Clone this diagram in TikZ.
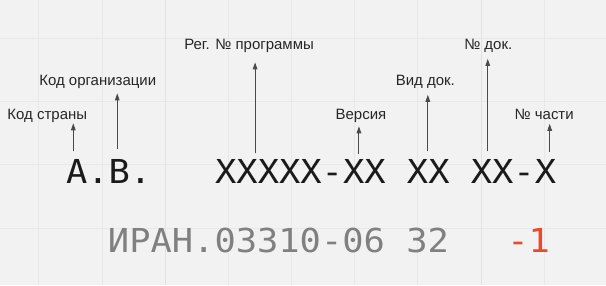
\documentclass[tikz,border=0pt]{standalone}
\usepackage{fontspec}
\setmainfont{Liberation Sans}
\newfontfamily\codefont[FakeStretch=1.074]{DejaVu Sans Mono}
\usetikzlibrary{arrows.meta}

\definecolor{paper}{HTML}{F2F2F2}
\definecolor{gridminor}{HTML}{E8E8E8}
\definecolor{gridmajor}{HTML}{E1E1E1}
\definecolor{labelink}{HTML}{262626}
\definecolor{arrowink}{HTML}{4A4A4A}
\definecolor{codeink}{HTML}{1A1A1A}
\definecolor{sampleink}{HTML}{808080}
\definecolor{partink}{HTML}{F0472B}

\tikzset{
  label/.style={inner sep=0pt, anchor=base, text=labelink,
    font=\fontsize{15}{15}\selectfont},
  code/.style={inner sep=0pt, anchor=base west, text=codeink,
    font=\codefont\fontsize{33}{33}\selectfont},
  pointer/.style={draw=arrowink, line width=0.9pt,
    -{Triangle[length=7pt,width=4.6pt]}},
}

\begin{document}
\begin{tikzpicture}[x=1pt,y=-1pt]
  % canvas and grid
  \fill[paper] (0,0) rectangle (606,285);
  \foreach \gx in {38.5,101.75,228.25,291.5,354.75,418,544.5}
    \draw[gridminor, line width=0.8pt] (\gx,0) -- (\gx,285);
  \foreach \gy in {38,101.25,164.5,227.75}
    \draw[gridminor, line width=0.8pt] (0,\gy) -- (606,\gy);
  \foreach \gx in {165,481.25}
    \draw[gridmajor, line width=0.9pt] (\gx,0) -- (\gx,285);
  \useasboundingbox (0,0) rectangle (606,285);

  % designation pattern
  \node[code] (pattern) at (65.5,183) {A.B.\ \ \ XXXXX-XX XX XX-X};

  % sample designation
  \node[code, text=sampleink] (sample) at (107.5,252) {ИРАН.03310-06 32};
  \node[code, text=partink] (part) at (507.5,252) {-1};

  % field names
  \node[label] (country) at (47,119.5) {Код страны};
  \node[label] (org)     at (97.5,85.5) {Код организации};
  \node[label] (prog)    at (249,49.5) {Рег. № программы};
  \node[label] (ver)     at (361,119.5) {Версия};
  \node[label] (kind)    at (425.5,85.5) {Вид док.};
  \node[label] (docno)   at (488.5,49.5) {№ док.};
  \node[label] (partno)  at (544.5,119.5) {№ части};

  % pointer feet (above the pattern) and tips (below the field names)
  \coordinate (country-foot) at (73,151);   \coordinate (country-tip) at (73,123);
  \coordinate (org-foot)     at (117,149);  \coordinate (org-tip)     at (117,93);
  \coordinate (prog-foot)    at (255,153);  \coordinate (prog-tip)    at (255,62);
  \coordinate (ver-foot)     at (359,154);  \coordinate (ver-tip)     at (359,126);
  \coordinate (kind-foot)    at (428,151);  \coordinate (kind-tip)    at (428,94.5);
  \coordinate (docno-foot)   at (488,151);  \coordinate (docno-tip)   at (488,58.5);
  \coordinate (partno-foot)  at (550,152);  \coordinate (partno-tip)  at (550,123.5);

  \foreach \f in {country,org,prog,ver,kind,docno,partno}
    \draw[pointer] (\f-foot) -- (\f-tip);
\end{tikzpicture}
\end{document}
